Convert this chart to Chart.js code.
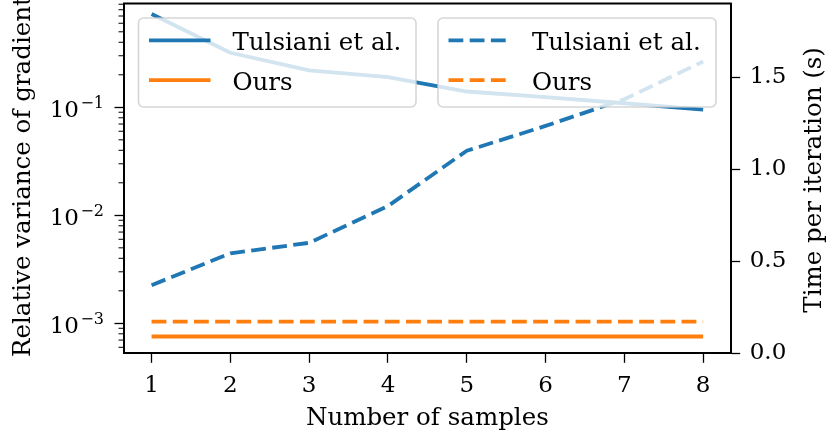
<!DOCTYPE html>
<html>
<head>
<meta charset="utf-8">
<script src="https://cdn.jsdelivr.net/npm/chart.js@4.4.1/dist/chart.umd.min.js"></script>
<style>
  html, body { margin: 0; padding: 0; background: #fff; }
  #wrap { width: 830px; height: 436px; }
</style>
</head>
<body>
<div id="wrap"><canvas id="chart" width="830" height="436"></canvas></div>
<script>
// x axis: number of samples
const samples = [1, 2, 3, 4, 5, 6, 7, 8];
// left axis (log): relative variance of gradients
const varTulsiani = [0.73, 0.32, 0.22, 0.19, 0.14, 0.124, 0.109, 0.095];
const varOurs = [7.55e-4, 7.55e-4, 7.55e-4, 7.55e-4, 7.55e-4, 7.55e-4, 7.55e-4, 7.55e-4];
// right axis: time per iteration (s)
const timeTulsiani = [0.37, 0.543, 0.60, 0.80, 1.10, 1.235, 1.38, 1.585];
const timeOurs = [0.172, 0.172, 0.172, 0.172, 0.172, 0.172, 0.172, 0.172];

// tick labels
const xTicks = [1, 2, 3, 4, 5, 6, 7, 8];
const leftTicks = [1e-3, 1e-2, 1e-1];
const leftTickExp = ['\u22123', '\u22122', '\u22121'];
const rightTicks = [0, 0.5, 1, 1.5];

const xTitle = 'Number of samples';
const leftTitle = 'Relative variance of gradients';
const rightTitle = 'Time per iteration (s)';

const BLUE = '#1f77b4';
const ORANGE = '#ff7f0e';
const DASH = [14.8, 6.4];
const FAMILY = '"DejaVu Serif", serif';

const toPoints = arr => samples.map((s, i) => ({ x: s, y: arr[i] }));

// the first dataset is painted last (on top) by Chart.js
const datasets = [
  { label: 'Ours', data: toPoints(timeOurs), yAxisID: 'y1', borderColor: ORANGE, borderDash: DASH },
  { label: 'Tulsiani et al.', data: toPoints(timeTulsiani), yAxisID: 'y1', borderColor: BLUE, borderDash: DASH },
  { label: 'Ours', data: toPoints(varOurs), yAxisID: 'y', borderColor: ORANGE },
  { label: 'Tulsiani et al.', data: toPoints(varTulsiani), yAxisID: 'y', borderColor: BLUE }
].map(d => Object.assign({
  borderWidth: 3.8, pointRadius: 0, tension: 0, fill: false,
  borderCapStyle: 'butt', borderJoinStyle: 'round'
}, d));

// two legends drawn inside the plot, like the original
const legends = [
  { x: 138.5, y: 18, w: 277.5, h: 89, items: [3, 2] },
  { x: 438, y: 18, w: 278, h: 89, items: [1, 0] }
];

const extras = {
  id: 'extras',
  afterDatasetsDraw(chart) {
    const ctx = chart.ctx;
    const a = chart.chartArea;
    const ys = chart.scales.y;
    ctx.save();

    // top spine
    ctx.strokeStyle = '#000';
    ctx.lineWidth = 2;
    ctx.beginPath();
    ctx.moveTo(a.left - 1, a.top);
    ctx.lineTo(a.right + 1, a.top);
    ctx.stroke();

    // minor ticks of the log axis
    ctx.lineWidth = 1;
    ctx.beginPath();
    for (let e = -4; e <= 0; e++) {
      for (let m = 2; m <= 9; m++) {
        const v = m * Math.pow(10, e);
        if (v < ys.min || v > ys.max) continue;
        const py = ys.getPixelForValue(v);
        ctx.moveTo(a.left - 5.5, py);
        ctx.lineTo(a.left, py);
      }
    }
    ctx.stroke();

    // log tick labels 10^n
    ctx.fillStyle = '#000';
    ctx.textBaseline = 'alphabetic';
    ctx.textAlign = 'right';
    const labelRight = a.left - 20;
    leftTicks.forEach((v, i) => {
      const py = ys.getPixelForValue(v);
      ctx.font = '16px ' + FAMILY;
      const ew = ctx.measureText(leftTickExp[i]).width;
      ctx.fillText(leftTickExp[i], labelRight, py + 0.5);
      ctx.font = '23px ' + FAMILY;
      ctx.fillText('10', labelRight - ew - 1.5, py + 10);
    });

    // y titles (both read bottom to top)
    ctx.font = '24.5px ' + FAMILY;
    ctx.save();
    ctx.translate(30, 357);
    ctx.rotate(-Math.PI / 2);
    ctx.textAlign = 'left';
    ctx.fillText(leftTitle, 0, 0);
    ctx.restore();
    ctx.save();
    ctx.translate(821, (a.top + a.bottom) / 2 + 1.5);
    ctx.rotate(-Math.PI / 2);
    ctx.textAlign = 'center';
    ctx.fillText(rightTitle, 0, 0);
    ctx.restore();

    // legends
    legends.forEach(lg => {
      ctx.beginPath();
      ctx.roundRect(lg.x, lg.y, lg.w, lg.h, 5);
      ctx.fillStyle = 'rgba(255,255,255,0.8)';
      ctx.fill();
      ctx.lineWidth = 1.6;
      ctx.strokeStyle = 'rgba(204,204,204,0.8)';
      ctx.stroke();
      lg.items.forEach((idx, row) => {
        const ds = chart.data.datasets[idx];
        const ly = lg.y + 22.3 + row * 39.8;
        ctx.beginPath();
        ctx.setLineDash(ds.borderDash || []);
        ctx.lineCap = 'butt';
        ctx.lineWidth = ds.borderWidth;
        ctx.strokeStyle = ds.borderColor;
        ctx.moveTo(lg.x + 10.5, ly);
        ctx.lineTo(lg.x + 72, ly);
        ctx.stroke();
        ctx.setLineDash([]);
        ctx.fillStyle = '#000';
        ctx.textAlign = 'left';
        ctx.font = '24.5px ' + FAMILY;
        ctx.fillText(ds.label, lg.x + 94, ly + 10);
      });
    });

    ctx.restore();
  }
};

const tickFont = { family: FAMILY, size: 23 };
const axisGrid = { drawOnChartArea: false, drawTicks: true, tickLength: 9.5, tickWidth: 1.3, tickColor: '#000' };
const axisBorder = { display: true, color: '#000', width: 2 };

// fixed axis boxes so the plot area sits where it does in the original
const fixBox = (w, h) => s => {
  if (w !== null) s.width = w;
  if (h !== null) s.height = h;
  s.paddingTop = 0; s.paddingBottom = 0; s.paddingLeft = 0; s.paddingRight = 0;
};

new Chart(document.getElementById('chart'), {
  type: 'line',
  data: { datasets: datasets },
  options: {
    responsive: false,
    animation: false,
    devicePixelRatio: 1,
    layout: { padding: { top: 3.5, left: 0, right: 0, bottom: 0 } },
    plugins: { legend: { display: false }, tooltip: { enabled: false } },
    scales: {
      x: {
        type: 'linear', position: 'bottom', min: 0.65, max: 8.35, bounds: 'data',
        afterBuildTicks: s => { s.ticks = xTicks.map(v => ({ value: v })); },
        afterFit: fixBox(null, 82.7),
        ticks: { font: tickFont, color: '#000', padding: 9.5, autoSkip: false, maxRotation: 0, callback: v => String(v) },
        grid: axisGrid,
        border: axisBorder,
        title: { display: true, text: xTitle, color: '#000', font: { family: FAMILY, size: 24.5 }, padding: { top: 0, bottom: 2.5 } }
      },
      y: {
        type: 'logarithmic', position: 'left', min: 5.28e-4, max: 0.914, bounds: 'data',
        afterBuildTicks: s => { s.ticks = leftTicks.map(v => ({ value: v, major: true })); },
        afterFit: fixBox(124, null),
        ticks: { font: tickFont, color: '#000', padding: 9.5, autoSkip: false, callback: () => '' },
        grid: axisGrid,
        border: axisBorder
      },
      y1: {
        type: 'linear', position: 'right', min: 0, max: 1.9, bounds: 'data',
        afterBuildTicks: s => { s.ticks = rightTicks.map(v => ({ value: v })); },
        afterFit: fixBox(99.3, null),
        ticks: { font: tickFont, color: '#000', padding: 9.5, autoSkip: false, callback: v => v.toFixed(1) },
        grid: axisGrid,
        border: axisBorder
      }
    }
  },
  plugins: [extras]
});
</script>
</body>
</html>
